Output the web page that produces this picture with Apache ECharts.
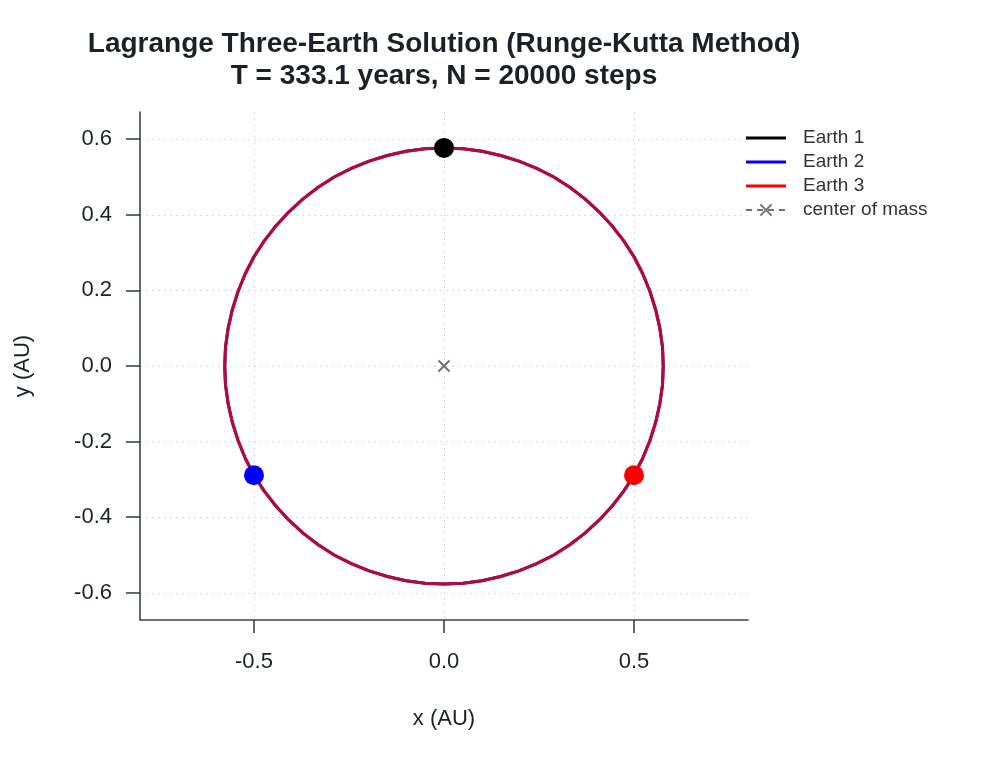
<!DOCTYPE html>
<html>
<head>
<meta charset="utf-8">
<script src="https://cdn.jsdelivr.net/npm/echarts@6/dist/echarts.min.js"></script>
<style>html,body{margin:0;padding:0;background:#fff}#c{width:1000px;height:760px}</style>
</head>
<body>
<div id="c"></div>
<script>
// Orbit track (radius ~0.577 AU), shared by all three bodies
var orbitPts = [
  [0, 0.577], [-0.050, 0.575], [-0.100, 0.568], [-0.149, 0.557], [-0.197, 0.542], [-0.244, 0.523],
  [-0.289, 0.500], [-0.331, 0.473], [-0.371, 0.442], [-0.408, 0.408], [-0.442, 0.371], [-0.473, 0.331],
  [-0.500, 0.289], [-0.523, 0.244], [-0.542, 0.197], [-0.557, 0.149], [-0.568, 0.100], [-0.575, 0.050],
  [-0.577, 0], [-0.575, -0.050], [-0.568, -0.100], [-0.557, -0.149], [-0.542, -0.197], [-0.523, -0.244],
  [-0.500, -0.289], [-0.473, -0.331], [-0.442, -0.371], [-0.408, -0.408], [-0.371, -0.442], [-0.331, -0.473],
  [-0.289, -0.500], [-0.244, -0.523], [-0.197, -0.542], [-0.149, -0.557], [-0.100, -0.568], [-0.050, -0.575],
  [0, -0.577], [0.050, -0.575], [0.100, -0.568], [0.149, -0.557], [0.197, -0.542], [0.244, -0.523],
  [0.289, -0.500], [0.331, -0.473], [0.371, -0.442], [0.408, -0.408], [0.442, -0.371], [0.473, -0.331],
  [0.500, -0.289], [0.523, -0.244], [0.542, -0.197], [0.557, -0.149], [0.568, -0.100], [0.575, -0.050],
  [0.577, 0], [0.575, 0.050], [0.568, 0.100], [0.557, 0.149], [0.542, 0.197], [0.523, 0.244],
  [0.500, 0.289], [0.473, 0.331], [0.442, 0.371], [0.408, 0.408], [0.371, 0.442], [0.331, 0.473],
  [0.289, 0.500], [0.244, 0.523], [0.197, 0.542], [0.149, 0.557], [0.100, 0.568], [0.050, 0.575],
  [0, 0.577]
];
var earthNames = ['Earth 1', 'Earth 2', 'Earth 3'];
var earthColors = ['#000000', '#0000ff', '#ff0000'];
var earthPos = [[0, 0.577], [-0.5, -0.289], [0.5, -0.289]];
var centerOfMass = [[0, 0]];
var xTicks = [-0.5, 0, 0.5];
var yTicks = [-0.6, -0.4, -0.2, 0, 0.2, 0.4, 0.6];

var txt = '#1a202c';
var font = 'Liberation Sans';
var lineIcon = 'path://M0,0M0,5.5L40,5.5L40,8.5L0,8.5Z M40,14';
var series = [];
earthNames.forEach(function (n, i) {
  series.push({
    name: n, type: 'line', data: orbitPts, showSymbol: false, symbol: 'none',
    lineStyle: { color: earthColors[i], width: 3, opacity: 0.7, join: 'round', cap: 'round' },
    itemStyle: { color: earthColors[i] },
    z: 2 + i, silent: true, animation: false
  });
});
earthNames.forEach(function (n, i) {
  series.push({
    name: n + ' pos', type: 'scatter', data: [earthPos[i]], symbol: 'circle', symbolSize: 20,
    itemStyle: { color: earthColors[i], opacity: 1 }, z: 10, animation: false
  });
});
series.push({
  name: 'center of mass', type: 'line', data: centerOfMass,
  symbol: 'path://M0,0L10,10M10,0L0,10', symbolSize: 11, showSymbol: true,
  lineStyle: { color: '#6b7280', width: 2, type: [6, 5] },
  itemStyle: { color: 'none', borderColor: '#6b7280', borderWidth: 2 },
  z: 11, animation: false
});

var legendData = earthNames.map(function (n, i) {
  return { name: n, icon: lineIcon, itemStyle: { color: earthColors[i] } };
});
legendData.push({ name: 'center of mass' });

var chart = echarts.init(document.getElementById('c'), null, { renderer: 'canvas' });
chart.setOption({
  backgroundColor: '#ffffff',
  animation: false,
  textStyle: { fontFamily: font },
  title: {
    text: 'Lagrange Three-Earth Solution (Runge-Kutta Method)\nT = 333.1 years, N = 20000 steps',
    left: 439, top: 23, textAlign: 'center',
    textStyle: { fontFamily: font, fontSize: 28, fontWeight: 'bold', color: txt, lineHeight: 32 }
  },
  legend: {
    data: legendData,
    orient: 'vertical', left: 740, top: 123, padding: 5,
    itemWidth: 40, itemHeight: 14, itemGap: 4,
    textStyle: { fontFamily: font, fontSize: 19, lineHeight: 20, color: '#333333', padding: [0, 0, 0, 12] },
    selectedMode: false
  },
  grid: { left: 140, right: 252, top: 112, bottom: 140, containLabel: false },
  xAxis: {
    type: 'value', min: -0.8, max: 0.8,
    name: 'x (AU)', nameLocation: 'middle', nameGap: 88,
    nameTextStyle: { fontFamily: font, fontSize: 22, color: txt },
    axisLine: { show: true, onZero: false, lineStyle: { color: '#3a4150', width: 1.5 } },
    axisTick: { show: true, length: 13, customValues: xTicks, lineStyle: { color: '#2d3748', width: 1.5 } },
    axisLabel: { customValues: xTicks, margin: 31, fontFamily: font, fontSize: 22, color: txt,
      formatter: function (v) { return v.toFixed(1); } },
    splitLine: { show: true, lineStyle: { color: '#d8dbe2', type: [2, 4], width: 1 } }
  },
  yAxis: {
    type: 'value', min: -0.672, max: 0.672,
    name: 'y (AU)', nameLocation: 'middle', nameGap: 106,
    nameTextStyle: { fontFamily: font, fontSize: 22, color: txt },
    axisLine: { show: true, onZero: false, lineStyle: { color: '#2d3748', width: 1.5 } },
    axisTick: { show: true, length: 14, customValues: yTicks, lineStyle: { color: '#2d3748', width: 1.5 } },
    axisLabel: { customValues: yTicks, margin: 28, fontFamily: font, fontSize: 22, color: txt,
      formatter: function (v) { return v.toFixed(1); } },
    splitLine: { show: true, lineStyle: { color: '#d8dbe2', type: [2, 4], width: 1 } }
  },
  series: series
});
</script>
</body>
</html>
